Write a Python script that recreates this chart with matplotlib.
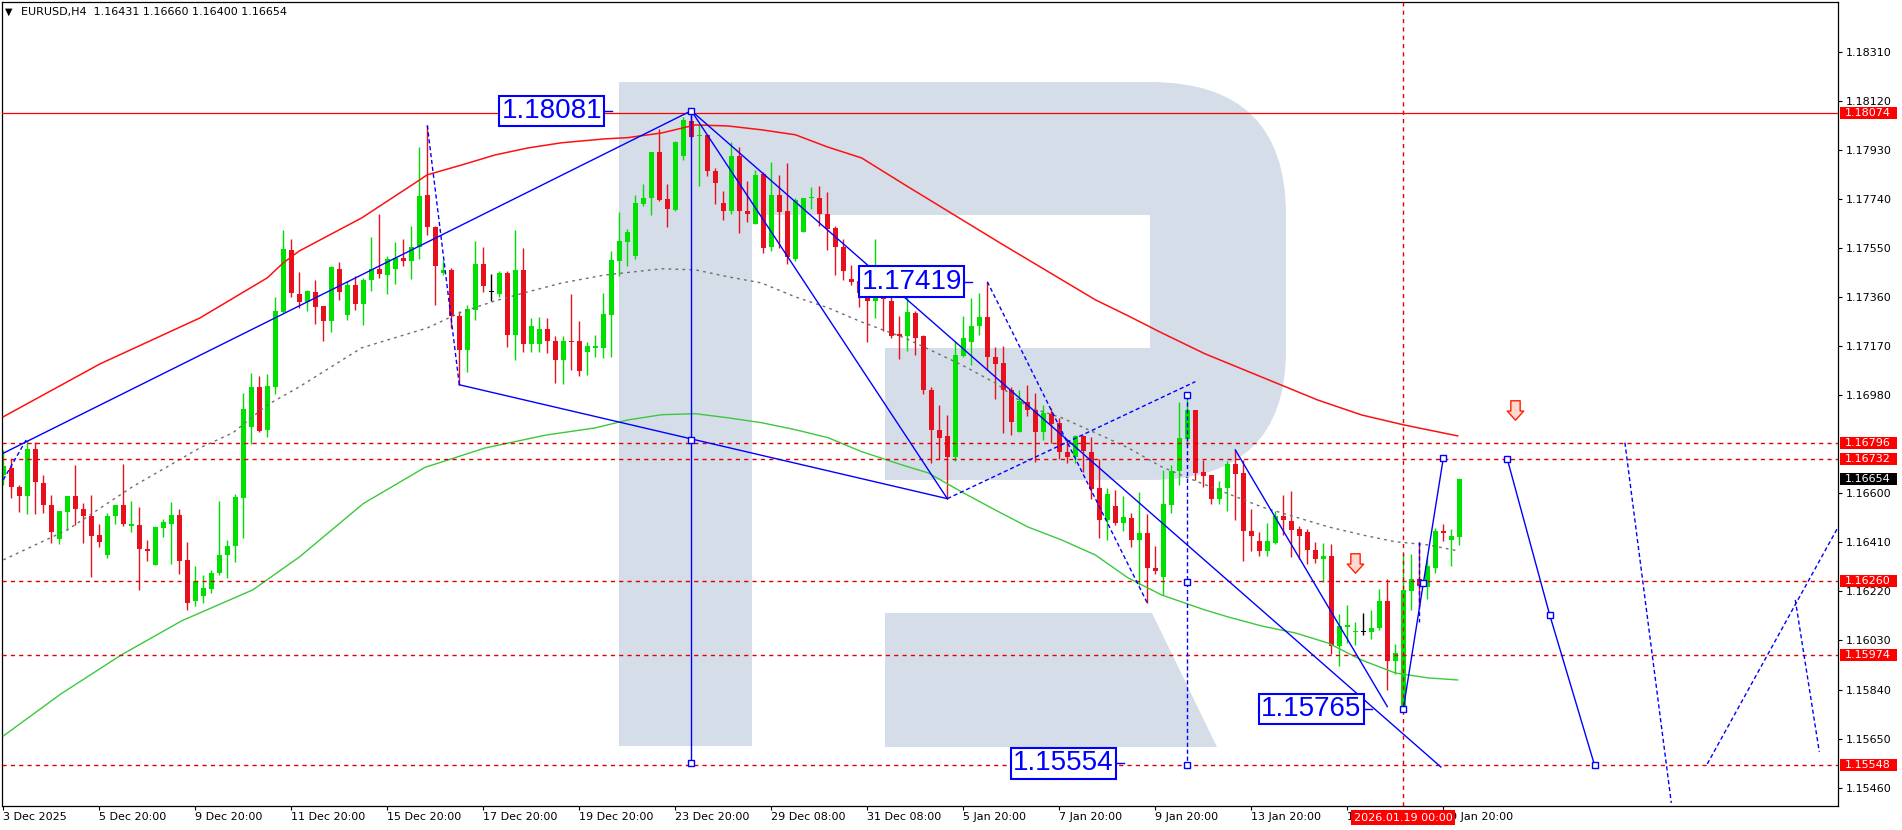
import numpy as np
import matplotlib
matplotlib.use("Agg")
import matplotlib.pyplot as plt
from matplotlib.path import Path
from matplotlib.patches import PathPatch, Rectangle
from matplotlib.transforms import blended_transform_factory

# EURUSD H4 candles (oldest first)
opens = [
    1.16671, 1.16697, 1.16626, 1.16588, 1.16772, 1.16639, 1.16555, 1.16423, 1.16526, 1.16588,
    1.16540, 1.16513, 1.16437, 1.16361, 1.16513, 1.16555, 1.16475, 1.16478, 1.16385, 1.16322,
    1.16465, 1.16481, 1.16517, 1.16340, 1.16181, 1.16201, 1.16230, 1.16291, 1.16362, 1.16394,
    1.16581, 1.16856, 1.17013, 1.16843, 1.17013, 1.17300, 1.17542, 1.17372, 1.17340, 1.17379,
    1.17324, 1.17266, 1.17469, 1.17291, 1.17407, 1.17334, 1.17424, 1.17469, 1.17446, 1.17468,
    1.17511, 1.17498, 1.17553, 1.17753, 1.17631, 1.17453, 1.17465, 1.17285, 1.17153, 1.17308,
    1.17489, 1.17378, 1.17373, 1.17453, 1.17211, 1.17463, 1.17179, 1.17178, 1.17237, 1.17191,
    1.17115, 1.17191, 1.17188, 1.17146, 1.17162, 1.17162, 1.17289, 1.17498, 1.17571, 1.17517,
    1.17721, 1.17742, 1.17920, 1.17740, 1.17698, 1.17904, 1.18042, 1.17983, 1.17988, 1.17846,
    1.17722, 1.17691, 1.17907, 1.17694, 1.17642, 1.17836, 1.17552, 1.17756, 1.17691, 1.17508,
    1.17610, 1.17742, 1.17744, 1.17682, 1.17627, 1.17554, 1.17431, 1.17420, 1.17379, 1.17343,
    1.17410, 1.17343, 1.17217, 1.17207, 1.17297, 1.17207, 1.16998, 1.16846, 1.16820, 1.16739,
    1.17132, 1.17184, 1.17246, 1.17281, 1.17126, 1.17104, 1.17001, 1.16839, 1.16952, 1.16923,
    1.16837, 1.16908, 1.16872, 1.16759, 1.16740, 1.16820, 1.16759, 1.16620, 1.16498, 1.16552,
    1.16485, 1.16504, 1.16418, 1.16446, 1.16311, 1.16276, 1.16553, 1.16685, 1.16810, 1.16923,
    1.16681, 1.16672, 1.16578, 1.16619, 1.16714, 1.16678, 1.16455, 1.16416, 1.16375, 1.16407,
    1.16513, 1.16494, 1.16463, 1.16450, 1.16382, 1.16345, 1.16356, 1.16007, 1.16081, 1.16063,
    1.16063, 1.16063, 1.16078, 1.16182, 1.15949, 1.15778, 1.16220, 1.16268, 1.16237, 1.16311,
    1.16452, 1.16418, 1.16431,
]
highs = [
    1.16768, 1.16732, 1.16633, 1.16807, 1.16800, 1.16671, 1.16594, 1.16532, 1.16588, 1.16710,
    1.16562, 1.16594, 1.16482, 1.16523, 1.16555, 1.16714, 1.16571, 1.16545, 1.16420, 1.16472,
    1.16500, 1.16567, 1.16540, 1.16410, 1.16317, 1.16282, 1.16304, 1.16571, 1.16420, 1.16597,
    1.16990, 1.17065, 1.17055, 1.17062, 1.17359, 1.17620, 1.17585, 1.17458, 1.17388, 1.17427,
    1.17324, 1.17478, 1.17494, 1.17420, 1.17440, 1.17433, 1.17594, 1.17682, 1.17520, 1.17571,
    1.17585, 1.17636, 1.17939, 1.18024, 1.17633, 1.17504, 1.17472, 1.17304, 1.17330, 1.17575,
    1.17552, 1.17450, 1.17459, 1.17462, 1.17620, 1.17549, 1.17278, 1.17284, 1.17278, 1.17207,
    1.17207, 1.17373, 1.17268, 1.17186, 1.17214, 1.17375, 1.17539, 1.17687, 1.17625, 1.17753,
    1.17798, 1.17923, 1.18011, 1.17798, 1.17965, 1.18055, 1.18081, 1.18027, 1.17990, 1.17859,
    1.17771, 1.17960, 1.17939, 1.17810, 1.17852, 1.17843, 1.17882, 1.17833, 1.17878, 1.17743,
    1.17744, 1.17784, 1.17791, 1.17766, 1.17633, 1.17585, 1.17485, 1.17459, 1.17423, 1.17585,
    1.17476, 1.17371, 1.17285, 1.17368, 1.17304, 1.17211, 1.17011, 1.16943, 1.16904, 1.17188,
    1.17285, 1.17355, 1.17375, 1.17419, 1.17168, 1.17171, 1.17011, 1.17001, 1.17020, 1.16990,
    1.16943, 1.16930, 1.16891, 1.16807, 1.16827, 1.16827, 1.16816, 1.16732, 1.16620, 1.16611,
    1.16588, 1.16523, 1.16603, 1.16521, 1.16394, 1.16691, 1.16708, 1.16954, 1.16984, 1.16923,
    1.16730, 1.16672, 1.16646, 1.16723, 1.16768, 1.16730, 1.16539, 1.16451, 1.16485, 1.16530,
    1.16592, 1.16610, 1.16472, 1.16463, 1.16411, 1.16407, 1.16405, 1.16133, 1.16169, 1.16102,
    1.16136, 1.16147, 1.16229, 1.16268, 1.16016, 1.16369, 1.16366, 1.16411, 1.16353, 1.16465,
    1.16481, 1.16463, 1.16660,
]
lows = [
    1.16633, 1.16580, 1.16526, 1.16521, 1.16518, 1.16523, 1.16407, 1.16402, 1.16456, 1.16477,
    1.16407, 1.16274, 1.16392, 1.16348, 1.16479, 1.16472, 1.16448, 1.16226, 1.16336, 1.16322,
    1.16430, 1.16326, 1.16288, 1.16149, 1.16162, 1.16175, 1.16214, 1.16282, 1.16272, 1.16333,
    1.16426, 1.16790, 1.16839, 1.16816, 1.16984, 1.17297, 1.17358, 1.17316, 1.17304, 1.17257,
    1.17188, 1.17223, 1.17347, 1.17269, 1.17311, 1.17253, 1.17382, 1.17433, 1.17373, 1.17411,
    1.17481, 1.17431, 1.17508, 1.17601, 1.17330, 1.17444, 1.17240, 1.17020, 1.17068, 1.17269,
    1.17379, 1.17343, 1.17358, 1.17165, 1.17115, 1.17146, 1.17146, 1.17147, 1.17143, 1.17027,
    1.17023, 1.17076, 1.17053, 1.17059, 1.17127, 1.17124, 1.17127, 1.17440, 1.17478, 1.17507,
    1.17714, 1.17676, 1.17732, 1.17629, 1.17694, 1.17891, 1.17975, 1.17788, 1.17827, 1.17721,
    1.17656, 1.17681, 1.17606, 1.17650, 1.17642, 1.17530, 1.17536, 1.17549, 1.17487, 1.17498,
    1.17610, 1.17702, 1.17633, 1.17540, 1.17444, 1.17424, 1.17407, 1.17321, 1.17184, 1.17278,
    1.17229, 1.17201, 1.17121, 1.17149, 1.17136, 1.16985, 1.16717, 1.16732, 1.16579, 1.16723,
    1.17127, 1.17097, 1.17214, 1.17078, 1.16965, 1.16833, 1.16824, 1.16836, 1.16900, 1.16721,
    1.16805, 1.16794, 1.16732, 1.16717, 1.16717, 1.16682, 1.16578, 1.16427, 1.16418, 1.16478,
    1.16452, 1.16391, 1.16246, 1.16175, 1.16289, 1.16207, 1.16523, 1.16633, 1.16788, 1.16652,
    1.16624, 1.16558, 1.16558, 1.16530, 1.16495, 1.16336, 1.16375, 1.16356, 1.16356, 1.16403,
    1.16437, 1.16352, 1.16347, 1.16326, 1.16330, 1.16256, 1.15979, 1.15930, 1.16020, 1.16014,
    1.16053, 1.16037, 1.16072, 1.15837, 1.15902, 1.15765, 1.16149, 1.16162, 1.16192, 1.16291,
    1.16416, 1.16317, 1.16400,
]
closes = [
    1.16706, 1.16624, 1.16588, 1.16772, 1.16642, 1.16553, 1.16448, 1.16532, 1.16588, 1.16539,
    1.16510, 1.16433, 1.16410, 1.16513, 1.16555, 1.16479, 1.16478, 1.16386, 1.16375, 1.16468,
    1.16487, 1.16517, 1.16336, 1.16175, 1.16259, 1.16235, 1.16293, 1.16362, 1.16397, 1.16584,
    1.16927, 1.17013, 1.16842, 1.17016, 1.17306, 1.17546, 1.17377, 1.17342, 1.17382, 1.17320,
    1.17266, 1.17475, 1.17378, 1.17407, 1.17334, 1.17427, 1.17469, 1.17450, 1.17508, 1.17511,
    1.17498, 1.17553, 1.17749, 1.17629, 1.17481, 1.17465, 1.17285, 1.17153, 1.17313, 1.17489,
    1.17401, 1.17378, 1.17453, 1.17211, 1.17463, 1.17178, 1.17246, 1.17237, 1.17191, 1.17115,
    1.17188, 1.17184, 1.17072, 1.17169, 1.17169, 1.17295, 1.17502, 1.17578, 1.17613, 1.17723,
    1.17744, 1.17920, 1.17736, 1.17700, 1.17961, 1.18046, 1.17981, 1.17988, 1.17846, 1.17800,
    1.17691, 1.17907, 1.17691, 1.17683, 1.17833, 1.17548, 1.17756, 1.17687, 1.17513, 1.17736,
    1.17744, 1.17744, 1.17681, 1.17625, 1.17552, 1.17459, 1.17416, 1.17374, 1.17343, 1.17410,
    1.17352, 1.17207, 1.17207, 1.17301, 1.17201, 1.16998, 1.16846, 1.16814, 1.16739, 1.17136,
    1.17201, 1.17248, 1.17282, 1.17127, 1.17101, 1.16998, 1.16874, 1.16956, 1.16921, 1.16837,
    1.16910, 1.16869, 1.16759, 1.16740, 1.16820, 1.16762, 1.16618, 1.16498, 1.16598, 1.16485,
    1.16509, 1.16418, 1.16446, 1.16311, 1.16298, 1.16560, 1.16686, 1.16815, 1.16923, 1.16678,
    1.16665, 1.16578, 1.16620, 1.16714, 1.16676, 1.16452, 1.16433, 1.16375, 1.16416, 1.16513,
    1.16495, 1.16459, 1.16433, 1.16379, 1.16345, 1.16356, 1.16007, 1.16087, 1.16090, 1.16066,
    1.16063, 1.16078, 1.16182, 1.15949, 1.15982, 1.16224, 1.16268, 1.16240, 1.16317, 1.16455,
    1.16446, 1.16433, 1.16654,
]

# moving averages, sampled along the curves (bar index, price)
red_ma_x = [0, 12.1, 24.6, 33, 35, 37, 44.8, 51.5, 53, 57.3, 61.5, 65.6, 69.8, 75.2, 78.1, 82.3,
            86.5, 90.6, 94.8, 99, 103, 107.3, 112.7, 124.6, 136.5, 140.6, 144.8, 150.2, 164.3,
            169.8, 175, 181.8]
red_ma_y = [1.16896, 1.17101, 1.17279, 1.17434, 1.17492, 1.17538, 1.17666, 1.17802, 1.17833,
            1.17871, 1.17910, 1.17937, 1.17957, 1.17972, 1.17977, 1.17995, 1.18026, 1.18022,
            1.18007, 1.17988, 1.17941, 1.17898, 1.17794, 1.17569, 1.17349, 1.17287, 1.17221,
            1.17140, 1.16961, 1.16903, 1.16865, 1.16822]
gray_ma_x = [0, 8, 16.2, 24.6, 28.7, 33, 37, 44.8, 53, 57.3, 61.5, 65.6, 69.8, 75.2, 82.3, 86.5,
             90.6, 94.8, 99, 103.1, 107.3, 112.7, 119.8, 124, 128.1, 132.3, 136.5, 140.6, 144.8,
             149, 157.3, 161.5, 165.6, 169.8, 174, 178.1, 181.8]
gray_ma_y = [1.16342, 1.16458, 1.16626, 1.16776, 1.16834, 1.16942, 1.17012, 1.17163, 1.17240,
             1.17302, 1.17345, 1.17380, 1.17414, 1.17445, 1.17469, 1.17465, 1.17438, 1.17414,
             1.17360, 1.17318, 1.17263, 1.17201, 1.17097, 1.17027, 1.16934, 1.16892, 1.16834,
             1.16776, 1.16702, 1.16648, 1.16547, 1.16508, 1.16470, 1.16439, 1.16412, 1.16400,
             1.16377]
green_ma_x = [0, 7.2, 14.75, 22.3, 31.2, 37, 45, 52.7, 60.2, 67.8, 74, 78.1, 82.3, 86.5, 90.6,
              94.8, 99, 103.1, 107.3, 112.7, 115.6, 119.8, 124, 128.1, 132.3, 136.5, 140.6, 144.8,
              150.2, 153.1, 157.3, 161.5, 165.6, 169.8, 174, 178.1, 181.8]
green_ma_y = [1.15660, 1.15823, 1.15974, 1.16106, 1.16226, 1.16353, 1.16560, 1.16700, 1.16775,
              1.16825, 1.16853, 1.16884, 1.16904, 1.16908, 1.16892, 1.16873, 1.16846, 1.16815,
              1.16761, 1.16706, 1.16679, 1.16605, 1.16535, 1.16469, 1.16419, 1.16361, 1.16272,
              1.16206, 1.16148, 1.16121, 1.16086, 1.16059, 1.16020, 1.15954, 1.15904, 1.15885,
              1.15877]

# horizontal levels
solid_levels = [1.18074]
dashed_levels = [1.16796, 1.16732, 1.16260, 1.15974, 1.15548]
marker_bar = 175
marker_date = "2026.01.19 00:00"

# wave drawings: (x0, p0, x1, p1)
blue_solid = [
    (0, 1.16755, 86, 1.18081), (86, 1.18081, 118, 1.16579), (57, 1.17020, 118, 1.16579),
    (86, 1.18081, 179.7, 1.15540), (86, 1.18081, 86, 1.15554), (154, 1.16768, 173, 1.15774),
    (175, 1.15765, 180, 1.16736), (188, 1.16732, 193.3, 1.16129), (193.3, 1.16129, 198.9, 1.15548),
]
blue_dashed = [
    (0, 1.16652, 3, 1.16814), (53, 1.18024, 57, 1.17020), (118, 1.16579, 149, 1.17032),
    (123, 1.17419, 143, 1.16175), (148, 1.16981, 148, 1.15548), (177, 1.16413, 177, 1.16103),
    (202.7, 1.16796, 208.5, 1.15401), (213, 1.15552, 229.3, 1.16466), (224, 1.16187, 227, 1.15599),
]
square_x = [86, 86, 86, 148, 148, 148, 175, 180, 177.5, 188, 193.3, 198.9]
square_y = [1.18081, 1.16807, 1.15554, 1.16981, 1.16258, 1.15548, 1.15765, 1.16736, 1.16254,
            1.16732, 1.16129, 1.15548]
arrow_x = [168.9, 189]
arrow_y = [1.16330, 1.16923]

label_text = ["1.18081", "1.17419", "1.15765", "1.15554"]
label_x = [68.55, 113.55, 163.5, 132.5]
label_tip = [76.05, 121.1, 171.05, 140.1]
label_edge = [74.8, 119.8, 169.8, 138.7]

tick_bars = list(range(0, 181, 12))
tick_labels = ["3 Dec 2025", "5 Dec 20:00", "9 Dec 20:00", "11 Dec 20:00", "15 Dec 20:00",
               "17 Dec 20:00", "19 Dec 20:00", "23 Dec 20:00", "29 Dec 08:00", "31 Dec 08:00",
               "5 Jan 20:00", "7 Jan 20:00", "9 Jan 20:00", "13 Jan 20:00", "15 Jan 20:00",
               "19 Jan 20:00"]
price_ticks = [1.18310, 1.18120, 1.17930, 1.17740, 1.17550, 1.17360, 1.17170, 1.16980,
               1.16600, 1.16410, 1.16220, 1.16030, 1.15840, 1.15650, 1.15460]
symbol = "EURUSD,H4"

# ---- layout (pixels of the 1902x830 picture) ----
W, H = 1902, 830
X0, X1, Y0, Y1 = 2.3, 1838.0, 2.0, 806.0
BAR_PX, FIRST_PX = 8.0, 3.3
P_TOP, P_BOT = 1.18502, 1.15389
PPX = (P_TOP - P_BOT) / (Y1 - Y0)   # price per pixel

GREEN, RED, BLUE = "#00e000", "#e8101c", "#0000ff"

fig = plt.figure(figsize=(W / 100, H / 100), dpi=100)
ax = fig.add_axes([X0 / W, 1 - Y1 / H, (X1 - X0) / W, (Y1 - Y0) / H])
ax.set_xlim((X0 - FIRST_PX) / BAR_PX, (X1 - FIRST_PX) / BAR_PX)
ax.set_ylim(P_BOT, P_TOP)


def fx(x):
    return (x - X0) / (X1 - X0)


def fy(y):
    return (Y1 - y) / (Y1 - Y0)


# watermark logo
R = Path.CURVE3
verts = [(619, 82), (1150, 82), (1286, 82), (1286, 215), (1286, 350), (1286, 480), (1150, 480),
         (885, 480), (885, 348), (1150, 348), (1150, 215), (752, 215), (752, 746), (619, 746),
         (619, 82)]
codes = [Path.MOVETO, Path.LINETO, R, R, Path.LINETO, R, R, Path.LINETO, Path.LINETO,
         Path.LINETO, Path.LINETO, Path.LINETO, Path.LINETO, Path.LINETO, Path.CLOSEPOLY]
logo_col = "#d4dde8"
ax.add_patch(PathPatch(Path([(fx(a), fy(b)) for a, b in verts], codes), transform=ax.transAxes,
                       fc=logo_col, ec="none", zorder=0))
leg = [(885, 613), (1152, 613), (1217, 747), (885, 747), (885, 613)]
ax.add_patch(PathPatch(Path([(fx(a), fy(b)) for a, b in leg], closed=True), transform=ax.transAxes,
                       fc=logo_col, ec="none", zorder=0))

# moving averages
ax.plot(red_ma_x, red_ma_y, color="#ff1010", lw=1.1, zorder=3)
ax.plot(gray_ma_x, gray_ma_y, color="#6e6e6e", lw=1.0, ls=(0, (2, 3)), zorder=3)
ax.plot(green_ma_x, green_ma_y, color="#3cc83c", lw=1.0, zorder=3)

# candles
o, h, l, c = map(np.array, (opens, highs, lows, closes))
idx = np.arange(len(o))
cols = np.where(c > o, GREEN, np.where(c < o, RED, "black"))
ax.vlines(idx, l, h, colors=cols, lw=1.0, zorder=2)
ax.bar(idx, np.maximum(np.abs(c - o), 1.2 * PPX), bottom=np.minimum(o, c), width=0.62,
       color=cols, lw=0, zorder=2.1)

# levels
for p in solid_levels:
    ax.axhline(p, color="#ff0000", lw=0.9, zorder=3)
for p in dashed_levels:
    ax.axhline(p, color="#e00000", lw=1.0, ls=(0, (3, 3)), zorder=3)
ax.axvline(marker_bar, color="#e00000", lw=1.0, ls=(0, (3, 3)), zorder=3)

# wave lines
for x0, p0, x1, p1 in blue_solid:
    ax.plot([x0, x1], [p0, p1], color=BLUE, lw=1.0, zorder=4, clip_on=True)
for x0, p0, x1, p1 in blue_dashed:
    ax.plot([x0, x1], [p0, p1], color=BLUE, lw=1.0, ls=(0, (3, 2)), zorder=4)
ax.plot(square_x, square_y, ls="none", marker="s", ms=4.5, mfc="white", mec=BLUE, mew=1.0, zorder=5)

arrow = Path([(-0.24, 0.5), (0.24, 0.5), (0.24, -0.03), (0.42, -0.03), (0, -0.5), (-0.42, -0.03),
              (-0.24, -0.03), (-0.24, 0.5)], closed=True)
ax.plot(arrow_x, arrow_y, ls="none", marker=arrow, ms=14, mfc="#ffd8d0", mec="#ff2000", mew=1.0,
        zorder=5)

for t, xc, xe, xt in zip(label_text, label_x, label_edge, label_tip):
    p = float(t)
    ax.plot([xe, xt], [p, p], color=BLUE, lw=1.0, zorder=5)
    ax.text(xc, p, t, ha="center", va="center", fontsize=20, color=BLUE,
            family="Liberation Sans", zorder=6,
            bbox=dict(boxstyle="square,pad=0.08", fc="white", ec=BLUE, lw=1.5))

# axes styling
for s in ax.spines.values():
    s.set_color("black")
    s.set_linewidth(0.9)
ax.yaxis.tick_right()
ax.set_yticks(price_ticks)
ax.set_yticklabels([f"{p:.5f}" for p in price_ticks])
ax.tick_params(axis="y", which="both", length=3, width=0.8, pad=2.5, labelsize=8, colors="black",
               direction="out")
ax.set_xticks(tick_bars)
ax.set_xticklabels(tick_labels, ha="left")
ax.tick_params(axis="x", length=3, width=0.8, pad=1.5, labelsize=8, direction="out")
for lab in ax.get_xticklabels():
    lab.set_horizontalalignment("left")

# price tags on the right scale
tr = blended_transform_factory(ax.transAxes, ax.transData)
tags = [(p, "#ff0000") for p in solid_levels + dashed_levels] + [(closes[-1], "black")]
for p, col in tags:
    ax.add_patch(Rectangle((1 + 2 / (X1 - X0), p - 6 * PPX), 57 / (X1 - X0), 12 * PPX,
                           transform=tr, fc=col, ec="none", clip_on=False, zorder=10))
    ax.text(1 + 7 / (X1 - X0), p, f"{p:.5f}", transform=tr, ha="left", va="center", fontsize=8,
            color="white", clip_on=False, zorder=11)

# date marker on the time scale
trx = blended_transform_factory(ax.transData, ax.transAxes)
ax.text(marker_bar, -11.5 / (Y1 - Y0), marker_date, transform=trx, ha="center", va="center",
        fontsize=8, color="white", clip_on=False, zorder=11,
        bbox=dict(boxstyle="square,pad=0.22", fc="#ff0000", ec="none"))

# header
fig.text(5 / W, 1 - 12 / H, "\u25BC", fontsize=7, va="center", ha="left", color="black")
fig.text(21 / W, 1 - 12 / H,
         f"{symbol}  {opens[-1]:.5f} {highs[-1]:.5f} {lows[-1]:.5f} {closes[-1]:.5f}",
         fontsize=8, va="center", ha="left", color="black")

fig.savefig("out.png", dpi=100, facecolor="white")
